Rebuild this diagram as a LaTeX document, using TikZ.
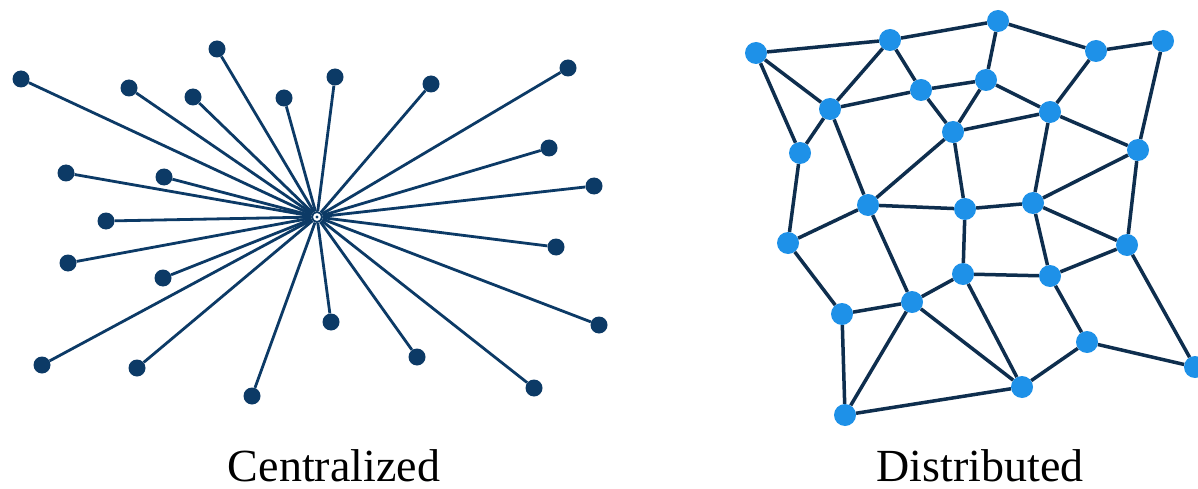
\documentclass[tikz,border=0pt]{standalone}
\usepackage{fontspec}
\setmainfont{Liberation Serif}
\definecolor{navy}{RGB}{12,58,102}
\definecolor{deepnavy}{RGB}{14,46,78}
\definecolor{sky}{RGB}{30,145,232}
\tikzset{
  cnode/.style={circle,fill=navy,inner sep=0pt,minimum size=17pt},
  hub/.style={circle,fill=white,draw=navy,line width=1.8pt,inner sep=0pt,minimum size=10pt},
  cedge/.style={navy,line width=2.8pt},
  dnode/.style={circle,fill=sky,inner sep=0pt,minimum size=22pt},
  dedge/.style={deepnavy,line width=3.5pt},
  caption/.style={font=\fontsize{46}{50}\selectfont,inner sep=0pt,anchor=base}
}
\begin{document}
\begin{tikzpicture}[x=1pt,y=-1pt]
\useasboundingbox[fill=white] (0,0) rectangle (1198,489);
% ---------- Centralized ----------
\node[hub] (c) at (317,217) {};
\foreach \n/\x/\y in {1/21/79,2/217/49,3/129/88,4/193/97,5/284/98,6/335/77,7/431/84,8/568/68,
  9/549/148,10/66/173,11/164/177,12/594/186,13/106/221,14/68/263,15/556/247,16/163/278,
  17/599/325,18/331/322,19/42/365,20/137/368,21/417/357,22/252/396,23/534/388}{
  \node[cnode] (s\n) at (\x,\y) {};
  \draw[cedge] (s\n) -- (c);
}
\fill[navy] (c.center) circle (1.6pt);
% ---------- Distributed ----------
\node[dnode] (A) at (756,53) {};
\node[dnode] (B) at (890,40) {};
\node[dnode] (C) at (998,21) {};
\node[dnode] (D) at (1096,51) {};
\node[dnode] (E) at (1163,41) {};
\node[dnode] (F) at (921,90) {};
\node[dnode] (G) at (986,80) {};
\node[dnode] (H) at (830,109) {};
\node[dnode] (I) at (1050,112) {};
\node[dnode] (J) at (953,132) {};
\node[dnode] (K) at (800,153) {};
\node[dnode] (L) at (1138,150) {};
\node[dnode] (M) at (868,205) {};
\node[dnode] (N) at (965,209) {};
\node[dnode] (O) at (1033,203) {};
\node[dnode] (P) at (788,243) {};
\node[dnode] (Q) at (1127,245) {};
\node[dnode] (R) at (963,274) {};
\node[dnode] (S) at (1050,276) {};
\node[dnode] (T) at (912,302) {};
\node[dnode] (U) at (842,314) {};
\node[dnode] (V) at (1087,342) {};
\node[dnode] (W) at (1195,367) {};
\node[dnode] (X) at (1022,387) {};
\node[dnode] (Y) at (845,415) {};
\foreach \a/\b in {A/B,B/C,C/D,D/E,A/H,A/K,B/H,B/F,C/G,F/G,H/F,F/J,G/J,G/I,D/I,E/L,
  H/K,H/M,J/I,J/M,J/N,I/L,I/O,L/O,L/Q,K/P,M/P,M/N,M/T,N/O,N/R,O/Q,O/S,P/U,Q/S,Q/W,
  R/S,R/T,R/X,T/U,T/Y,T/X,U/Y,S/V,V/X,V/W,X/Y}{
  \draw[dedge] (\a) -- (\b);
}
% ---------- Captions ----------
\node[caption] (capc) at (334,481) {Centralized};
\node[caption] (capd) at (980,481) {Distributed};
\end{tikzpicture}
\end{document}
